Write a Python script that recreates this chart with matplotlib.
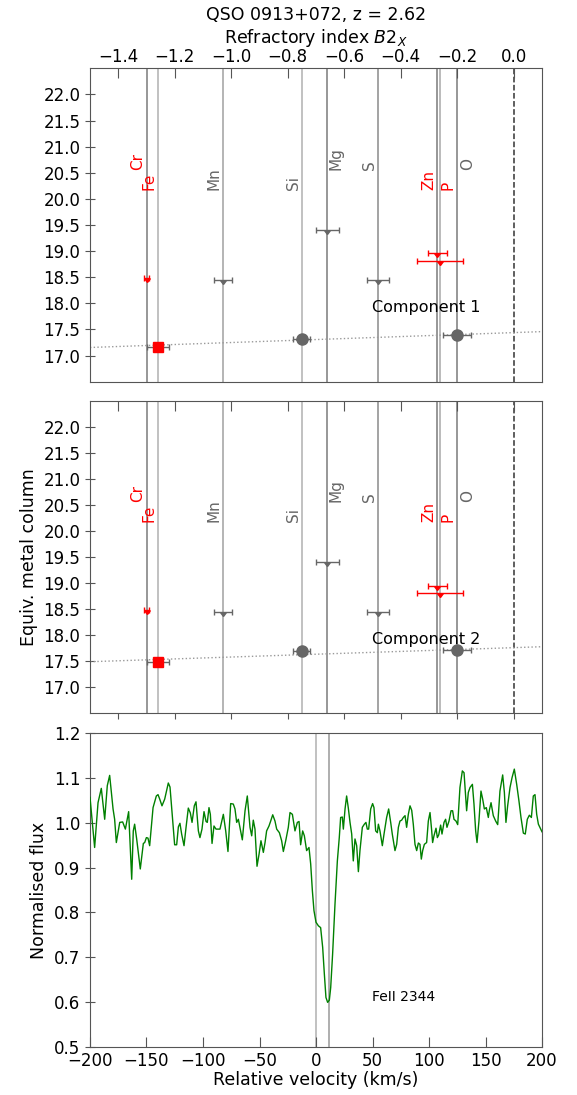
import matplotlib
matplotlib.use('Agg')
import matplotlib.pyplot as plt
import numpy as np

# ---------------- data ----------------
title = "QSO 0913+072, z = 2.62"
elements = ['Cr', 'Fe', 'Mn', 'Si', 'Mg', 'S', 'Zn', 'P', 'O']
b2x = [-1.30, -1.26, -1.03, -0.75, -0.66, -0.48, -0.27, -0.26, -0.20]
b2x_err = [0.008, 0.04, 0.031, 0.03, 0.04, 0.04, 0.032, 0.081, 0.049]
is_red = [True, True, False, False, False, False, True, True, False]
kind = ['limit', 'detect', 'limit', 'detect', 'limit', 'limit', 'limit', 'limit', 'detect']
comp1_N = [18.49, 17.17, 18.44, 17.32, 19.41, 18.44, 18.96, 18.81, 17.40]
comp2_N = [18.49, 17.48, 18.44, 17.70, 19.40, 18.44, 18.95, 18.80, 17.71]
fit1 = (17.44, 0.19)   # intercept, slope
fit2 = (17.76, 0.18)
comp_labels = ['Component 1', 'Component 2']
line_label = 'FeII 2344'
comp_velocities = [0.0, 11.5]

velocity = [-200.0, -195.9, -192.9, -190.0, -187.0, -184.7, -182.6, -179.6, -178.2, -176.7,
            -173.7, -171.1, -168.7, -165.8, -164.6, -163.1, -161.7, -160.5, -158.7, -155.5,
            -152.8, -151.6, -150.1, -148.7, -147.2, -144.2, -141.3, -139.8, -138.3, -136.3,
            -133.9, -130.7, -129.2, -126.8, -125.1, -123.3, -121.8, -120.4, -118.9, -116.8,
            -115.0, -113.0, -111.2, -109.7, -107.7, -106.2, -104.1, -102.7, -100.9, -99.1,
            -97.3, -96.2, -94.7, -93.5, -92.0, -90.3, -88.5, -85.0, -82.0, -79.9,
            -77.9, -75.5, -73.2, -71.7, -70.2, -68.7, -67.3, -65.2, -62.8, -60.8,
            -58.4, -56.9, -55.5, -54.0, -52.2, -50.4, -48.7, -46.6, -45.1, -43.7,
            -41.6, -40.1, -38.3, -36.3, -34.8, -32.4, -30.4, -28.9, -26.8, -24.5,
            -23.0, -20.9, -18.6, -16.5, -15.0, -13.6, -11.8, -10.3, -8.3, -6.2,
            -4.7, -3.2, -1.8, 0.0, 2.1, 4.1, 5.9, 7.4, 8.8, 10.3,
            11.8, 13.0, 14.7, 16.8, 18.9, 20.6, 21.8, 23.3, 24.2, 25.7,
            27.1, 28.6, 30.1, 31.6, 33.0, 34.5, 36.0, 37.5, 38.9, 41.0,
            42.8, 44.2, 45.4, 46.6, 48.4, 50.1, 51.3, 52.8, 54.3, 55.2,
            56.6, 58.7, 60.2, 62.5, 64.3, 66.1, 67.5, 69.9, 71.4, 72.9,
            74.3, 75.8, 77.3, 78.8, 80.2, 81.7, 83.2, 84.7, 86.1, 87.6,
            89.1, 90.6, 92.0, 93.2, 94.4, 95.9, 97.9, 99.4, 100.9, 102.4,
            103.2, 104.4, 106.2, 107.4, 108.6, 110.3, 111.5, 113.3, 114.7, 115.9,
            117.7, 119.5, 120.9, 122.1, 123.9, 125.4, 127.4, 129.5, 131.0, 133.3,
            134.8, 136.3, 138.4, 139.8, 141.3, 142.5, 144.2, 146.0, 147.5, 149.0,
            150.7, 152.5, 153.4, 154.9, 156.9, 159.0, 160.8, 162.8, 165.2, 166.7,
            168.1, 169.6, 171.7, 173.5, 175.5, 177.6, 179.6, 181.4, 183.5, 185.2,
            187.0, 188.8, 190.6, 192.3, 193.8, 195.3, 196.8, 200.0]
flux = [1.057, 0.945, 1.045, 1.077, 1.008, 1.083, 1.106, 1.031, 1.008, 0.956,
        1.001, 1.002, 0.986, 1.025, 0.960, 0.874, 0.982, 0.997, 0.964, 0.897,
        0.954, 0.956, 0.967, 0.966, 0.949, 1.034, 1.060, 1.063, 1.053, 1.038,
        1.053, 1.089, 1.080, 1.004, 0.951, 0.951, 0.991, 0.999, 0.975, 0.949,
        0.990, 1.033, 1.022, 1.001, 1.038, 1.047, 0.982, 0.967, 0.986, 1.025,
        1.003, 1.001, 1.034, 1.019, 0.954, 0.993, 0.986, 0.986, 1.019, 0.982,
        0.936, 1.043, 1.042, 1.031, 1.001, 1.008, 0.990, 0.962, 1.027, 1.060,
        0.990, 0.971, 1.006, 0.986, 0.903, 0.930, 0.960, 0.934, 0.956, 0.982,
        0.993, 1.004, 1.018, 1.004, 0.986, 0.978, 0.960, 0.936, 0.960, 0.990,
        1.023, 1.019, 0.982, 1.001, 1.003, 0.951, 0.982, 0.971, 0.938, 0.945,
        0.908, 0.848, 0.804, 0.778, 0.770, 0.766, 0.722, 0.662, 0.610, 0.599,
        0.604, 0.632, 0.707, 0.818, 0.915, 0.967, 1.012, 1.013, 0.986, 1.031,
        1.060, 1.033, 1.001, 0.975, 0.915, 0.964, 0.949, 0.891, 0.938, 0.990,
        0.997, 1.001, 0.986, 0.986, 1.031, 1.043, 1.034, 0.982, 0.978, 0.997,
        0.982, 0.949, 0.975, 1.012, 1.031, 1.001, 0.975, 0.938, 0.952, 0.990,
        1.004, 1.006, 1.012, 1.016, 0.990, 1.019, 1.038, 1.028, 0.997, 0.952,
        0.938, 0.955, 0.952, 0.919, 0.938, 0.952, 0.956, 1.004, 1.023, 0.982,
        0.956, 0.971, 0.988, 0.967, 0.973, 0.995, 0.975, 1.001, 1.008, 0.990,
        1.004, 1.027, 1.027, 1.008, 1.004, 0.996, 1.079, 1.116, 1.112, 1.027,
        1.068, 1.079, 1.086, 1.042, 0.982, 0.956, 1.004, 1.071, 1.053, 1.031,
        1.034, 1.012, 1.028, 1.045, 1.016, 1.004, 0.996, 1.071, 1.107, 1.068,
        1.001, 1.038, 1.079, 1.101, 1.120, 1.086, 1.049, 1.012, 0.977, 0.975,
        1.008, 1.017, 1.012, 1.060, 1.063, 1.019, 0.997, 0.980]

b2x_ticks = [-1.4, -1.2, -1.0, -0.8, -0.6, -0.4, -0.2, 0.0]
n_ticks = [17.0, 17.5, 18.0, 18.5, 19.0, 19.5, 20.0, 20.5, 21.0, 21.5, 22.0]
v_ticks = [-200, -150, -100, -50, 0, 50, 100, 150, 200]
f_ticks = [0.5, 0.6, 0.7, 0.8, 0.9, 1.0, 1.1, 1.2]

# ---------------- style ----------------
label_offset_px = [-8.5, -8.5, -8.5, -8.5, 8.5, -8.5, -8.5, 7.5, 10]
label_level = [20.55, 20.17, 20.17, 20.17, 20.55, 20.55, 20.17, 20.17, 20.55]
line_color = ['#7a7a7a', '#b0b0b0', '#a0a0a0', '#b0b0b0', '#7a7a7a', '#8a8a8a', '#7a7a7a', '#a8a8a8', '#7a7a7a']
GRAY = '#666666'
FRAME = '#555555'


def fmt(t, nd=1):
    return f'{t:.{nd}f}'.replace('-', '\u2212')


plt.rcParams['font.family'] = ['DejaVu Sans']
fig = plt.figure(figsize=(5.77, 10.95), dpi=100)
L, W = 90 / 577, 452 / 577
ax1 = fig.add_axes([L, 1 - 381.7 / 1095, W, 313.4 / 1095])
ax2 = fig.add_axes([L, 1 - 713.3 / 1095, W, 312.6 / 1095])
ax3 = fig.add_axes([L, 1 - 1046.7 / 1095, W, 313.4 / 1095])


def draw_panel(ax, N, fit, comp_label):
    ax.set_xlim(-1.5, 0.1)
    ax.set_ylim(16.5, 22.5)
    for i, el in enumerate(elements):
        ax.axvline(b2x[i], color=line_color[i], lw=1.1, zorder=1)
        col = 'red' if is_red[i] else GRAY
        ax.annotate(el, xy=(b2x[i], label_level[i]), xytext=(label_offset_px[i] * 0.72, 0),
                    textcoords='offset points', rotation=90, ha='center', va='bottom',
                    color=col, fontsize=11)
    ax.axvline(0.0, color='#333333', ls='--', lw=1.1, zorder=1)
    xs = np.array(ax.get_xlim())
    ax.plot(xs, fit[0] + fit[1] * xs, ls=':', color='#999999', lw=1.0, zorder=2)
    for i in range(len(elements)):
        red = is_red[i]
        if kind[i] == 'limit':
            col = 'red' if red else GRAY
            ax.errorbar(b2x[i], N[i], xerr=b2x_err[i], fmt='none', ecolor=col,
                        elinewidth=1.0, capsize=2.5, capthick=1.0, zorder=3)
            ax.plot(b2x[i], N[i], marker=11, color=col, ms=3.8, ls='none', zorder=4)
        else:
            ax.errorbar(b2x[i], N[i], xerr=b2x_err[i], fmt='none', ecolor=GRAY,
                        elinewidth=1.0, capsize=2.5, capthick=1.0, zorder=3)
            if red:
                ax.plot(b2x[i], N[i], marker='s', color='red', ms=7.5, ls='none', zorder=4)
            else:
                ax.plot(b2x[i], N[i], marker='o', color=GRAY, ms=8, ls='none', zorder=4)
    ax.text(-0.5, 17.92, comp_label, ha='left', va='center', fontsize=11.5, color='black')
    ax.set_yticks(n_ticks)
    ax.set_yticklabels([fmt(t) for t in n_ticks])
    ax.tick_params(axis='y', direction='inout', length=7, labelsize=12, color=FRAME)
    for s in ax.spines.values():
        s.set_color(FRAME)
    ax.set_xticks(b2x_ticks)


draw_panel(ax1, comp1_N, fit1, comp_labels[0])
draw_panel(ax2, comp2_N, fit2, comp_labels[1])

# top panel: tick labels at top
ax1.xaxis.tick_top()
ax1.xaxis.set_label_position('top')
ax1.set_xticklabels([fmt(t) for t in b2x_ticks])
ax1.tick_params(axis='x', direction='in', length=7, labelsize=12, color=FRAME, pad=1.5)
ax1.set_xlabel(r'Refractory index $B2_X$', fontsize=12.5, labelpad=4)
fig.text(316 / 577, 1 - 15 / 1095, title, ha='center', va='center', fontsize=12.5)

# middle panel
ax2.tick_params(axis='x', direction='in', length=7, top=True, bottom=False,
                labeltop=False, labelbottom=False, color=FRAME)
sec = ax2.secondary_xaxis('bottom')
sec.set_xticks(b2x_ticks)
sec.tick_params(axis='x', direction='out', length=4, labelbottom=False, color=FRAME)
sec.spines['bottom'].set_visible(False)
ax2.set_ylabel('Equiv. metal column', fontsize=12.5)

# bottom panel: spectrum
ax3.plot(velocity, flux, color='green', lw=1.0, zorder=3)
for v, c in zip(comp_velocities, ['#b0b0b0', '#999999']):
    ax3.axvline(v, color=c, lw=1.1, zorder=1)
ax3.set_xlim(-200, 200)
ax3.set_ylim(0.5, 1.2)
ax3.set_xticks(v_ticks)
ax3.set_xticklabels([fmt(t, 0) for t in v_ticks])
ax3.set_yticks(f_ticks)
ax3.set_yticklabels([fmt(t) for t in f_ticks])
ax3.tick_params(axis='x', direction='in', length=7, labelsize=12, color=FRAME)
ax3.tick_params(axis='y', direction='inout', length=7, labelsize=12, color=FRAME)
for s in ax3.spines.values():
    s.set_color(FRAME)
ax3.text(50, 0.61, line_label, fontsize=10, ha='left', va='center')
ax3.set_xlabel('Relative velocity (km/s)', fontsize=12.5, labelpad=1)
ax3.set_ylabel('Normalised flux', fontsize=12.5)

fig.savefig('out.png', dpi=100)
